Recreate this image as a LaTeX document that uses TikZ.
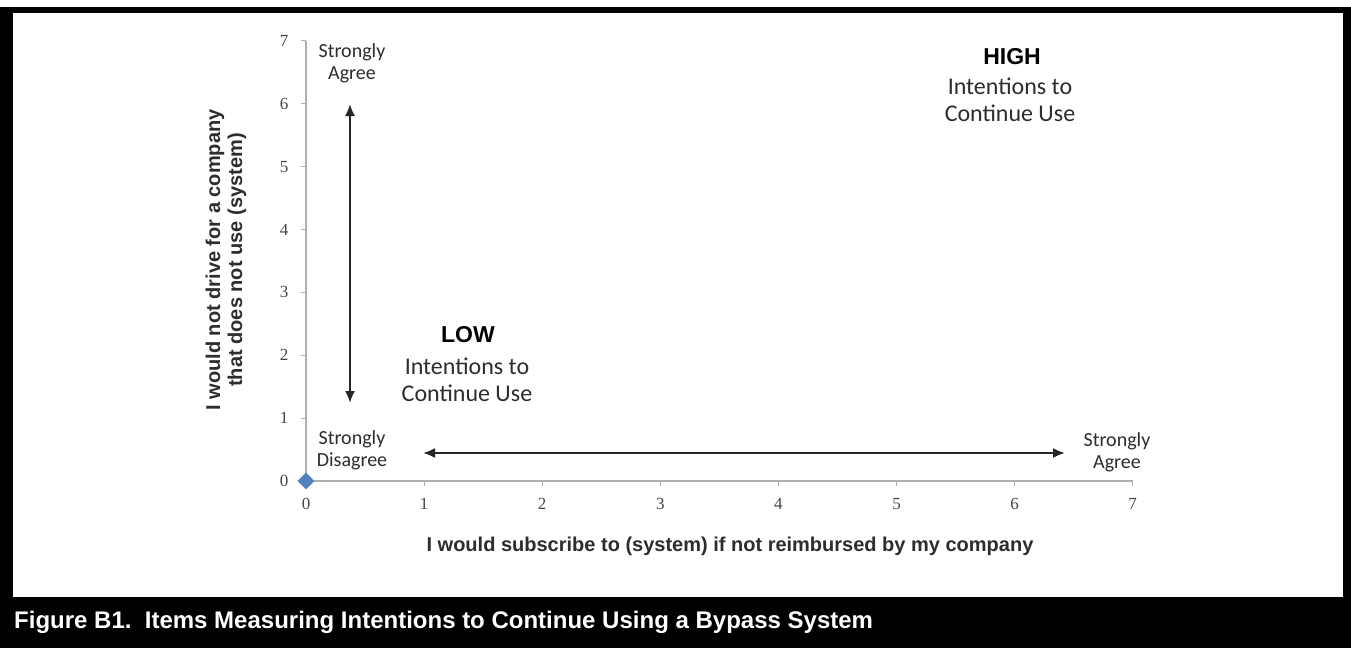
\documentclass[tikz,border=0pt]{standalone}
\usepackage{fontspec}
\setmainfont{Liberation Sans}
\newfontfamily\calibrifont{Carlito}
\newfontfamily\numfont{Liberation Serif}
\usetikzlibrary{positioning, arrows.meta, shapes.geometric}
\definecolor{axisgray}{RGB}{175,175,175}
\definecolor{pointblue}{RGB}{79,129,189}
\definecolor{labelgray}{RGB}{45,45,45}
\definecolor{numgray}{RGB}{70,70,70}
\tikzset{
  ticklabel/.style={font=\numfont\fontsize{17}{17}\selectfont, text=numgray, inner sep=0pt},
  endlabel/.style={font=\calibrifont\fontsize{20}{22}\selectfont, text=labelgray, align=center, inner sep=0pt},
  levellabel/.style={font=\bfseries\fontsize{23}{23}\selectfont, text=black, inner sep=0pt},
  intentlabel/.style={font=\calibrifont\fontsize{24}{27}\selectfont, text=labelgray, align=center, inner sep=0pt},
  axistitle/.style={font=\bfseries\fontsize{20}{22}\selectfont, text=labelgray, align=center, inner sep=0pt},
  rangearrow/.style={{Latex[length=12pt,width=10pt]}-{Latex[length=12pt,width=10pt]}, line width=2pt, black!85}
}

\begin{document}
\begin{tikzpicture}[x=1pt, y=-1pt, >=latex]
\useasboundingbox (0,0) rectangle (1351,648);
% frame and caption band
\fill[black] (0,7) rectangle (1351,648);
\fill[white] (13,13) rectangle (1343,597);

% axes
\coordinate (O) at (306,481);
\coordinate (xend) at (1133,481);
\coordinate (yend) at (306,41);
\draw[axisgray, line width=1.2pt] (yend) -- (O) -- (xend);
\foreach \i in {0,...,7} {
  \draw[axisgray, line width=1pt] (306+118.1*\i,481) -- ++(0,5);
  \node[ticklabel] (xt\i) at (306+118.1*\i,504) {\i};
  \draw[axisgray, line width=1pt] (306,481-62.86*\i) -- ++(-5,0);
  \node[ticklabel] (yt\i) at (284,481-62.86*\i) {\i};
}
\node[diamond, fill=pointblue, inner sep=0pt, minimum size=17pt] (origin) at (O) {};

% scale arrows
\coordinate (vtop) at (350,104);
\coordinate (vbot) at (350,403);
\coordinate (hleft) at (423,453);
\coordinate (hright) at (1065,453);
\draw[rangearrow] (vtop) -- (vbot);
\draw[rangearrow] (hleft) -- (hright);

\node[endlabel] (agreeV) at (352,63) {Strongly\\Agree};
\node[endlabel] (disagree) at (352,450) {Strongly\\Disagree};
\node[endlabel] (agreeH) at (1117,452) {Strongly\\Agree};

% quadrant labels
\node[levellabel] (low) at (468,335) {LOW};
\node[intentlabel] (lowtxt) at (467,380) {Intentions to\\Continue Use};
\node[levellabel] (high) at (1012,57) {HIGH};
\node[intentlabel] (hightxt) at (1010,100) {Intentions to\\Continue Use};

% axis titles
\node[axistitle, rotate=90] (ytitle) at (226,260) {I would not drive for a company\\that does not use (system)};
\node[axistitle] (xtitle) at (730,546) {I would subscribe to (system) if not reimbursed by my company};

\node[font=\bfseries\fontsize{24}{24}\selectfont, text=white, anchor=west, inner sep=0pt] (caption) at (14,622)
  {Figure B1.\ \ Items Measuring Intentions to Continue Using a Bypass System};
\end{tikzpicture}
\end{document}
